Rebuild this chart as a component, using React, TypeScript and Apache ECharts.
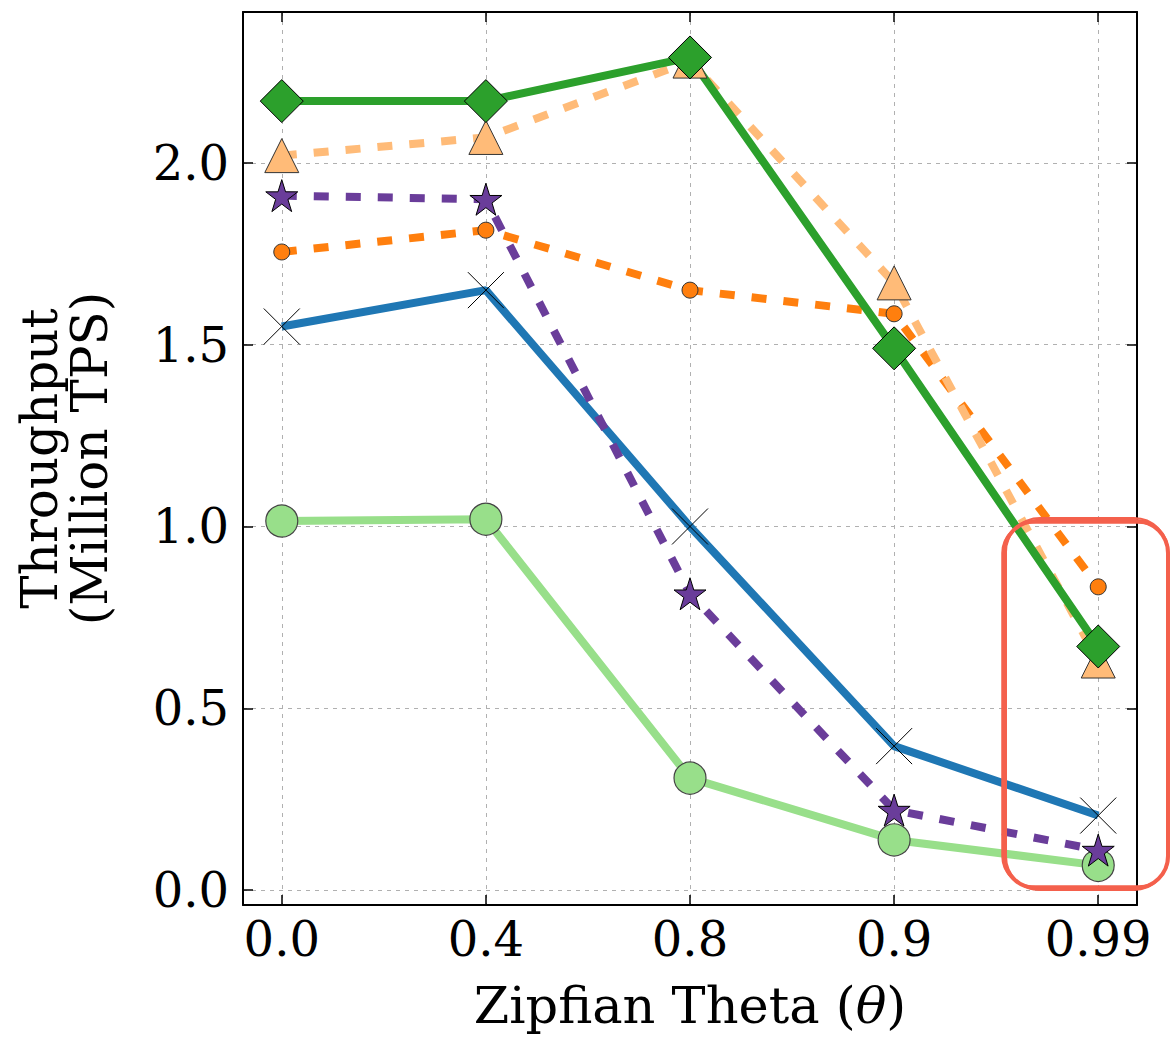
import React, { useEffect, useRef } from "react";
import * as echarts from "echarts";

const thetaLabels = ["0.0", "0.4", "0.8", "0.9", "0.99"];
const greenDiamond = [2.17, 2.17, 2.29, 1.49, 0.67];
const lightOrangeTriangle = [2.02, 2.07, 2.28, 1.67, 0.63];
const purpleStar = [1.91, 1.9, 0.815, 0.22, 0.11];
const orangeCircle = [1.755, 1.815, 1.65, 1.585, 0.834];
const blueCross = [1.55, 1.65, 1.0, 0.396, 0.205];
const lightGreenCircle = [1.015, 1.02, 0.308, 0.138, 0.068];

const FONT = "DejaVu Serif";

function starPath(): string {
  const pts: string[] = [];
  for (let k = 0; k < 10; k++) {
    const a = ((-90 + 36 * k) * Math.PI) / 180;
    const r = k % 2 === 0 ? 10 : 3.82;
    pts.push(`${(10 + r * Math.cos(a)).toFixed(3)},${(10 + r * Math.sin(a)).toFixed(3)}`);
  }
  return "path://M" + pts.join("L") + "Z";
}

const crossPath = "path://M0,0L10,10M0,10L10,0";

function pairs(vals: number[]) {
  return vals.map((v, i) => [i, v]);
}

export default function App() {
  const ref = useRef<HTMLDivElement>(null);
  useEffect(() => {
    document.body.style.margin = "0";
    const chart = echarts.init(ref.current!, undefined, { renderer: "svg" });
    const gridLine = { show: true, lineStyle: { color: "#b0b0b0", type: [4, 5], width: 1 } };
    const tick = { show: true, inside: true, length: 10, lineStyle: { color: "#000", width: 1.5 } };
    const axLine = { show: true, onZero: false, lineStyle: { color: "#000", width: 2 } };
    const xMin = -0.19, xMax = 4.19, yMin = -0.041, yMax = 2.415;
    const redStroke = "#f4604c";
    const option: any = {
      animation: false,
      backgroundColor: "#fff",
      grid: { left: 243, top: 12, width: 894, height: 893, containLabel: false },
      xAxis: [
        {
          type: "value",
          min: xMin,
          max: xMax,
          position: "bottom",
          axisLine: axLine,
          axisTick: tick,
          splitLine: gridLine,
          axisLabel: {
            showMinLabel: false,
            showMaxLabel: false,
            fontFamily: FONT,
            fontSize: 48,
            color: "#000",
            margin: 10,
            formatter: (v: number) => {
              const i = Math.round(v);
              return Math.abs(v - i) < 1e-6 && i >= 0 && i < thetaLabels.length ? thetaLabels[i] : "";
            },
          },
          name: "{a|Zipfian Theta (}{b|θ}{a|)}",
          nameLocation: "middle",
          nameGap: 75,
          nameTextStyle: {
            rich: {
              a: { fontFamily: FONT, fontSize: 51, color: "#000" },
              b: { fontFamily: FONT, fontSize: 51, color: "#000", fontStyle: "italic" },
            },
          },
        },
        {
          type: "value",
          min: xMin,
          max: xMax,
          position: "top",
          axisLine: axLine,
          axisTick: tick,
          splitLine: { show: false },
          axisLabel: { show: false },
        },
      ],
      yAxis: [
        {
          type: "value",
          min: yMin,
          max: yMax,
          position: "left",
          axisLine: axLine,
          axisTick: tick,
          splitLine: gridLine,
          axisLabel: {
            showMinLabel: false,
            showMaxLabel: false,
            fontFamily: FONT,
            fontSize: 48,
            color: "#000",
            margin: 14,
            formatter: (v: number) => v.toFixed(1),
          },
          name: "Throughput\n(Million TPS)",
          nameLocation: "middle",
          nameRotate: 90,
          nameGap: 128,
          nameTextStyle: { fontFamily: FONT, fontSize: 50, color: "#000", lineHeight: 50, align: "center" },
        },
        {
          type: "value",
          min: yMin,
          max: yMax,
          position: "right",
          axisLine: axLine,
          axisTick: tick,
          splitLine: { show: false },
          axisLabel: { show: false },
        },
      ],
      series: [
        {
          name: "light green",
          type: "line",
          data: pairs(lightGreenCircle),
          symbol: "circle",
          symbolSize: 32,
          lineStyle: { color: "#98df8a", width: 8 },
          itemStyle: { color: "#98df8a", borderColor: "#444", borderWidth: 1.2 },
        },
        {
          name: "blue",
          type: "line",
          data: pairs(blueCross),
          symbol: crossPath,
          symbolSize: 36,
          lineStyle: { color: "#1f77b4", width: 8 },
          itemStyle: { color: "rgba(0,0,0,0)", borderColor: "#000", borderWidth: 1 },
        },
        {
          name: "orange",
          type: "line",
          data: pairs(orangeCircle),
          symbol: "circle",
          symbolSize: 16,
          lineStyle: { color: "#ff7f0e", width: 8, type: [15, 17] },
          itemStyle: { color: "#ff7f0e", borderColor: "#333", borderWidth: 1 },
        },
        {
          name: "purple",
          type: "line",
          data: pairs(purpleStar),
          symbol: starPath(),
          symbolSize: 32,
          lineStyle: { color: "#6a3d9a", width: 8, type: [15, 17] },
          itemStyle: { color: "#6a3d9a", borderColor: "#000", borderWidth: 1 },
        },
        {
          name: "light orange",
          type: "line",
          data: pairs(lightOrangeTriangle),
          symbol: "triangle",
          symbolSize: [34, 34],
          lineStyle: { color: "#ffbb78", width: 8, type: [15, 17] },
          itemStyle: { color: "#ffbb78", borderColor: "#333", borderWidth: 1 },
        },
        {
          name: "green",
          type: "line",
          data: pairs(greenDiamond),
          symbol: "diamond",
          symbolSize: 43,
          lineStyle: { color: "#2ca02c", width: 8 },
          itemStyle: { color: "#2ca02c", borderColor: "#000", borderWidth: 1 },
        },
      ],
      graphic: [
        {
          type: "rect",
          z: 100,
          shape: { x: 1004, y: 521, width: 164, height: 367, r: 32 },
          style: { fill: "none", stroke: redStroke, lineWidth: 4 },
        },
        {
          type: "rect",
          z: 100,
          shape: { x: 1006, y: 518, width: 162, height: 372, r: 34 },
          style: { fill: "none", stroke: redStroke, lineWidth: 2 },
        },
        {
          type: "rect",
          z: 100,
          shape: { x: 1002, y: 523, width: 167, height: 363, r: 30 },
          style: { fill: "none", stroke: redStroke, lineWidth: 1.5 },
        },
      ],
    };
    chart.setOption(option);
    return () => chart.dispose();
  }, []);
  return (
    <div
      ref={ref}
      style={{ position: "absolute", left: 0, top: 0, width: 1171, height: 1039, background: "#fff" }}
    />
  );
}
